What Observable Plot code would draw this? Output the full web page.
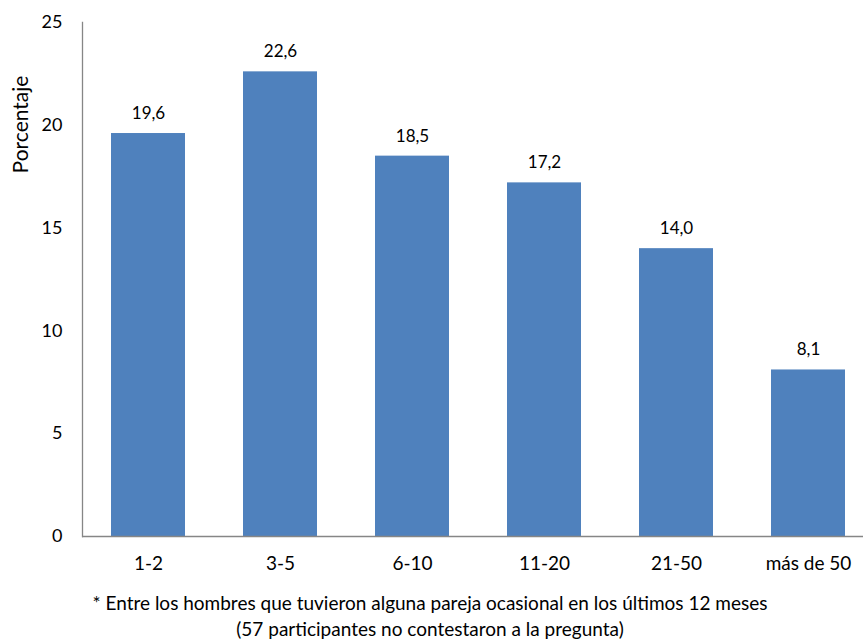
<!DOCTYPE html>
<html>
<head>
<meta charset="utf-8">
<script src="https://cdn.jsdelivr.net/npm/d3@7"></script>
<script src="https://cdn.jsdelivr.net/npm/@observablehq/plot@0.6"></script>
<style>
  html, body { margin: 0; padding: 0; background: #fff; overflow: hidden; }
  #chart { width: 863px; height: 587px; }
  .note { font-family: Lato, "Open Sans", sans-serif; font-size: 19px; color: #000; text-align: center; width: 860px; line-height: 26px; padding-top: 3px; white-space: nowrap; }
</style>
</head>
<body>
<div id="chart"></div>
<script>
const categories = ["1-2", "3-5", "6-10", "11-20", "21-50", "más de 50"];
const values = [19.6, 22.6, 18.5, 17.2, 14.0, 8.1];
const yTicks = [0, 5, 10, 15, 20, 25];
const yLabel = "Porcentaje";
const notes = [
  "* Entre los hombres que tuvieron alguna pareja ocasional en los últimos 12 meses",
  "(57 participantes no contestaron a la pregunta)"
];

const data = categories.map((c, i) => ({cat: c, val: values[i]}));
const fmt = v => v.toFixed(1).replace(".", ",");

const chart = Plot.plot({
  width: 863,
  height: 587,
  marginLeft: 82,
  marginRight: -11,
  marginTop: 22,
  marginBottom: 51,
  style: {fontFamily: "Lato, 'Open Sans', sans-serif", fontSize: "18px", color: "#000", background: "#fff", overflow: "visible"},
  x: {domain: categories, paddingInner: 0.44, paddingOuter: 0.22, label: null},
  y: {domain: [0, 25], ticks: yTicks, label: null},
  marks: [
    Plot.barY(data, {x: "cat", y: "val", fill: "#4F81BD"}),
    Plot.text(data, {x: "cat", y: "val", text: d => fmt(d.val), dy: -20, fontSize: 17, fill: "#000"}),
    Plot.axisY({ticks: yTicks, tickSize: 0, tickPadding: 20, label: null, fontSize: 18}),
    Plot.axisX({tickSize: 0, tickPadding: 20, label: null, fontSize: 19}),
    Plot.frame({anchor: "left", stroke: "#868686", strokeWidth: 1.3}),
    Plot.ruleY([0], {stroke: "#868686", strokeWidth: 1.3}),
    Plot.text([yLabel], {frameAnchor: "top-left", textAnchor: "middle", text: d => d, rotate: -90, dx: -69, dy: 102, fontSize: 21, fill: "#000"})
  ]
});
document.getElementById("chart").appendChild(chart);
const note = document.createElement("div");
note.className = "note";
note.innerHTML = notes.map(t => `<div>${t}</div>`).join("");
document.body.appendChild(note);
</script>
</body>
</html>
